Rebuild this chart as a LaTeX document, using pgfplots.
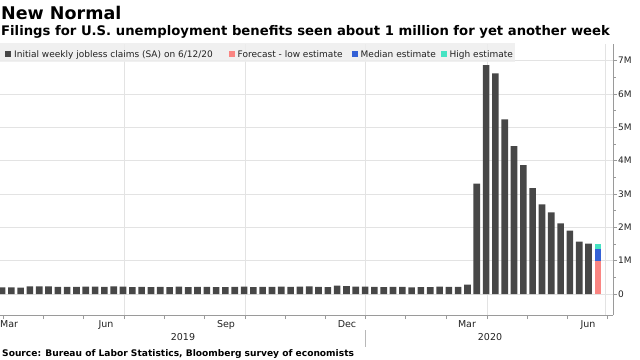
\documentclass[border=0pt]{standalone}
\usepackage{pgfplots}
\pgfplotsset{compat=1.18}
\usepackage{fontspec}
\setmainfont{DejaVu Sans}
\definecolor{bargray}{HTML}{474747}
\definecolor{fcpink}{HTML}{FA8582}
\definecolor{fcblue}{HTML}{3461D6}
\definecolor{fccyan}{HTML}{45E3C3}
\definecolor{gridc}{HTML}{E3E3E3}
\definecolor{axisc}{HTML}{9A9A9A}
\definecolor{legbg}{HTML}{EDEDED}
\definecolor{txt}{HTML}{222222}
\begin{document}
\begin{tikzpicture}
\path[use as bounding box] (0pt,0pt) rectangle (640pt,-359pt);
\node[anchor=base west, inner sep=0pt, font=\fontsize{17.5}{20}\selectfont\bfseries] at (1pt,-19pt) {New Normal};
\node[anchor=base west, inner sep=0pt, font=\fontsize{13.2}{15}\selectfont\bfseries] at (1pt,-35.5pt) {Filings for U.S. unemployment benefits seen about 1 million for yet another week};
\begin{axis}[
  at={(0pt,-315pt)}, anchor=south west,
  scale only axis, width=613pt, height=271pt,
  xmin=-0.215, xmax=65.63, ymin=-0.63, ymax=7.5,
  axis x line*=bottom, axis y line*=right,
  axis line style={-, draw=axisc, line width=0.8pt},
  xtick={0.107,4.44,8.78,13.10,17.43,21.77,26.10,30.39,34.69,38.99,43.36,47.72,52.09,56.39,60.69,64.98},
  xticklabels={},
  extra x ticks={13.10,26.10,38.99,52.09,64.77},
  extra x tick labels={},
  extra x tick style={grid=major, major tick length=0pt},
  ytick={0,1,2,3,4,5,6,7},
  yticklabels={0,1M,2M,3M,4M,5M,6M,7M},
  minor y tick num=1,
  ymajorgrids,
  grid style={draw=gridc, line width=0.6pt},
  tick align=outside,
  major tick length=4pt, minor tick length=2.5pt,
  tick style={draw=axisc, line width=0.6pt},
  yticklabel style={font=\fontsize{9}{10}\selectfont, text=txt, anchor=west, inner sep=1pt},
  clip=false,
]
\addplot[ybar, bar width=0.71, bar shift=0pt, fill=bargray, draw=none] coordinates {
(0,0.202) (1,0.196) (2,0.192) (3,0.230) (4,0.230) (5,0.228) (6,0.212) (7,0.211) (8,0.215) (9,0.218)
(10,0.222) (11,0.216) (12,0.227) (13,0.221) (14,0.209) (15,0.216) (16,0.206) (17,0.215) (18,0.209) (19,0.220)
(20,0.209) (21,0.215) (22,0.217) (23,0.204) (24,0.208) (25,0.213) (26,0.219) (27,0.210) (28,0.214) (29,0.212)
(30,0.218) (31,0.211) (32,0.225) (33,0.227) (34,0.213) (35,0.203) (36,0.252) (37,0.235) (38,0.222) (39,0.220)
(40,0.214) (41,0.204) (42,0.211) (43,0.216) (44,0.202) (45,0.205) (46,0.210) (47,0.219) (48,0.216) (49,0.211)
(50,0.282) (51,3.31) (52,6.87) (53,6.62) (54,5.24) (55,4.44) (56,3.87) (57,3.18) (58,2.69) (59,2.45)
(60,2.12) (61,1.90) (62,1.57) (63,1.51)
};
\addplot[ybar, bar width=0.71, bar shift=0pt, fill=fccyan, draw=none] coordinates {(64,1.50)};
\addplot[ybar, bar width=0.71, bar shift=0pt, fill=fcblue, draw=none] coordinates {(64,1.35)};
\addplot[ybar, bar width=0.71, bar shift=0pt, fill=fcpink, draw=none] coordinates {(64,1.00)};
\end{axis}
% legend
\fill[legbg, opacity=0.85] (0pt,-43pt) rectangle (515pt,-62pt);
\begin{scope}[every node/.style={anchor=base west, inner sep=0pt, font=\fontsize{9}{10}\selectfont, text=txt}]
\fill[bargray] (5pt,-51pt) rectangle (11.3pt,-57.3pt);
\node at (14pt,-57.5pt) {Initial weekly jobless claims (SA) on 6/12/20};
\fill[fcpink] (229pt,-51pt) rectangle (235.3pt,-57.3pt);
\node at (237.5pt,-57.5pt) {Forecast - low estimate};
\fill[fcblue] (352pt,-51pt) rectangle (358.3pt,-57.3pt);
\node at (360.5pt,-57.5pt) {Median estimate};
\fill[fccyan] (441pt,-51pt) rectangle (447.3pt,-57.3pt);
\node at (449.5pt,-57.5pt) {High estimate};
\end{scope}
% month and year labels
\begin{scope}[every node/.style={anchor=base, inner sep=0pt, font=\fontsize{9.5}{11}\selectfont, text=txt}]
\node[anchor=base west] at (0pt,-327.3pt) {Mar};
\node at (106pt,-327.3pt) {Jun};
\node at (226pt,-327.3pt) {Sep};
\node at (347pt,-327.3pt) {Dec};
\node at (467pt,-327.3pt) {Mar};
\node at (588pt,-327.3pt) {Jun};
\node at (183pt,-340.5pt) {2019};
\node at (490pt,-340.5pt) {2020};
\end{scope}
\draw[axisc!70, line width=0.6pt] (365pt,-330pt) -- (365pt,-347pt);
\node[anchor=base west, inner sep=0pt, font=\fontsize{9.1}{11}\selectfont\bfseries] at (2pt,-356pt) {Source: Bureau of Labor Statistics, Bloomberg survey of economists};
\end{tikzpicture}
\end{document}
